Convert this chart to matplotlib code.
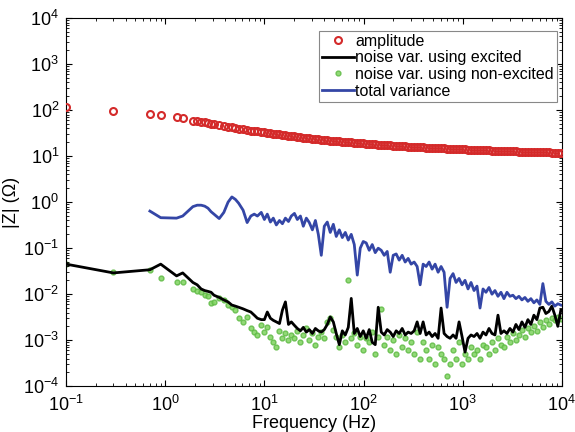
import numpy as np
import matplotlib
matplotlib.use('Agg')
import matplotlib.pyplot as plt

plt.rcParams['font.family'] = ['Liberation Sans', 'DejaVu Sans']
plt.rcParams['mathtext.default'] = 'regular'

# frequency grid (Hz)
freq = [0.1, 0.3, 0.7, 0.9, 1.3, 1.5, 1.9, 2.1, 2.3, 2.5, 2.7, 2.9, 3.1, 3.5, 3.9,
        4.3, 4.7, 5.1, 5.5, 6.1, 6.7, 7.3, 7.9, 8.5, 9.3,
        10, 10.7, 11.5, 12.3, 13.2, 14.2, 15.2, 16.3, 17.5, 18.7,
        20.1, 21.5, 23.1, 24.7, 26.5, 28.4, 30.5, 32.7, 35.0, 37.5,
        40.2, 43.1, 46.2, 49.6, 53.1, 57.0, 61.1, 65.5, 70.2, 75.2,
        80.7, 86.5, 92.7, 99.4, 106.5, 114.2, 122.5, 131.3, 140.7, 150.9,
        161.7, 173.4, 185.9, 199.3, 213.6, 229, 245.5, 263.2, 282.1, 302.4,
        324.2, 347.6, 372.6, 399.4, 428.2, 459, 492.1, 527.5, 565.5, 606.2,
        649.9, 696.7, 746.8, 800.6, 858.3, 920.1, 986.3, 1057, 1133, 1215,
        1303, 1396, 1497, 1605, 1720, 1844, 1977, 2119, 2272, 2435,
        2611, 2799, 3000, 3216, 3448, 3696, 3962, 4248, 4553, 4881,
        5233, 5609, 6013, 6446, 6910, 7408, 7941, 8513, 9126, 9783]

amplitude = [118, 96, 82, 78, 70, 69, 59, 57, 55.5, 54, 52.5, 51, 50, 48, 46,
             44, 42, 40.5, 39.5, 38, 37, 36, 35, 34.5, 33.5,
             33, 32.3, 31.6, 30.9, 30.3, 29.6, 29.0, 28.4, 27.9, 27.4,
             26.9, 26.4, 25.9, 25.4, 25.0, 24.5, 24.1, 23.7, 23.3, 22.9,
             22.6, 22.2, 21.9, 21.6, 21.3, 21.0, 20.7, 20.4, 20.1, 19.9,
             19.6, 19.4, 19.1, 18.9, 18.7, 18.5, 18.3, 18.1, 17.9, 17.7,
             17.5, 17.3, 17.2, 17.0, 16.8, 16.7, 16.5, 16.4, 16.2, 16.1,
             15.9, 15.8, 15.7, 15.5, 15.4, 15.3, 15.2, 15.0, 14.9, 14.8,
             14.7, 14.6, 14.5, 14.4, 14.3, 14.2, 14.1, 14.0, 13.9, 13.8,
             13.7, 13.6, 13.5, 13.4, 13.35, 13.3, 13.2, 13.1, 13.05, 13.0,
             12.9, 12.85, 12.8, 12.7, 12.65, 12.6, 12.5, 12.45, 12.4, 12.35,
             12.3, 12.25, 12.2, 12.15, 12.1, 12.05, 12.0, 11.95, 11.9, 11.85]

noise_exc = [0.045, 0.029, 0.034, 0.045, 0.025, 0.029, 0.018, 0.016, 0.013, 0.012, 0.0115, 0.011, 0.0095, 0.0085, 0.0075,
             0.0068, 0.0058, 0.0055, 0.0052, 0.0048, 0.0044, 0.0041, 0.0035, 0.003, 0.0028,
             0.0028, 0.0041, 0.003, 0.0027, 0.0025, 0.0023, 0.0045, 0.0068, 0.0022, 0.0025,
             0.0021, 0.0018, 0.0016, 0.0019, 0.0015, 0.0017, 0.0014, 0.0018, 0.0016, 0.0015,
             0.0017, 0.0022, 0.0032, 0.0025, 0.0014, 0.0008, 0.0016, 0.0013, 0.0019, 0.0081,
             0.0014, 0.0018, 0.0012, 0.0016, 0.0011, 0.0017, 0.0009, 0.0008, 0.0052, 0.0015,
             0.0013, 0.0017, 0.0015, 0.0012, 0.0016, 0.0014, 0.0018, 0.0013, 0.0015, 0.0014,
             0.0016, 0.0025, 0.0014, 0.0025, 0.0013, 0.0015, 0.0012, 0.0014, 0.0011, 0.005,
             0.0014, 0.0012, 0.0011, 0.0013, 0.0011, 0.0025, 0.0012, 0.00055, 0.0011, 0.0013,
             0.0012, 0.0014, 0.0011, 0.0015, 0.0013, 0.0018, 0.0014, 0.0013, 0.0035, 0.0014,
             0.0016, 0.0014, 0.0018, 0.0015, 0.0022, 0.0017, 0.0025, 0.0019, 0.0028, 0.0022,
             0.0035, 0.0028, 0.005, 0.0052, 0.0038, 0.0042, 0.0055, 0.0035, 0.002, 0.0045]

noise_nonexc = [0.045, 0.03, 0.033, 0.022, 0.018, 0.018, 0.013, 0.012, 0.011, 0.0095, 0.0092, 0.0065, 0.0068, 0.0082, 0.0075,
                0.0058, 0.0052, 0.0045, 0.003, 0.0025, 0.0032, 0.0018, 0.0015, 0.0013, 0.0021,
                0.0015, 0.0019, 0.0012, 0.0009, 0.0007, 0.0016, 0.0011, 0.0014, 0.001, 0.0013,
                0.0011, 0.0016, 0.0009, 0.0013, 0.0018, 0.001, 0.0014, 0.0008, 0.0012, 0.0015,
                0.0011, 0.0025, 0.003, 0.0017, 0.0012, 0.0007, 0.0013, 0.0009, 0.02, 0.0011,
                0.0014, 0.0008, 0.0012, 0.0006, 0.0011, 0.0009, 0.0015, 0.0005, 0.0012, 0.0048,
                0.0008, 0.0012, 0.0006, 0.0010, 0.0005, 0.0013, 0.0007, 0.0011, 0.0006, 0.0009,
                0.0005, 0.0015, 0.0004, 0.0009, 0.0006, 0.0004, 0.0008, 0.0003, 0.0007, 0.0005,
                0.0004, 0.00017, 0.0003, 0.0006, 0.0004, 0.0009, 0.0003, 0.0005, 0.0004, 0.0007,
                0.0005, 0.0006, 0.0004, 0.0008, 0.0007, 0.0005, 0.0009, 0.0006, 0.0011, 0.0008,
                0.0007, 0.0012, 0.0009, 0.0014, 0.001, 0.0013, 0.0017, 0.0012, 0.0018, 0.0015,
                0.002, 0.0016, 0.0025, 0.0019, 0.0028, 0.0022, 0.003, 0.0027, 0.0032, 0.0029]

# total variance starts at 0.7 Hz (freq[2:])
total_var = [0.64, 0.46, 0.45, 0.5, 0.8, 0.86, 0.86, 0.82, 0.74, 0.62, 0.55, 0.44, 0.6,
             1.0, 1.3, 1.15, 0.95, 0.67, 0.36, 0.5, 0.55, 0.5, 0.6,
             0.42, 0.55, 0.37, 0.45, 0.32, 0.4, 0.34, 0.45, 0.38, 0.5,
             0.57, 0.42, 0.5, 0.3, 0.45, 0.36, 0.25, 0.4, 0.2, 0.07,
             0.3, 0.37, 0.22, 0.33, 0.18, 0.25, 0.17, 0.22, 0.15, 0.2,
             0.12, 0.026, 0.1, 0.14, 0.13, 0.09, 0.12, 0.08, 0.1, 0.09,
             0.07, 0.085, 0.03, 0.07, 0.075, 0.055, 0.07, 0.05, 0.06, 0.045,
             0.05, 0.04, 0.016, 0.045, 0.04, 0.05, 0.035, 0.045, 0.03, 0.04,
             0.03, 0.0052, 0.022, 0.028, 0.018, 0.022, 0.016, 0.02, 0.013, 0.018,
             0.012, 0.015, 0.005, 0.013, 0.011, 0.014, 0.01, 0.012, 0.009, 0.011,
             0.008, 0.011, 0.009, 0.0095, 0.008, 0.009, 0.0075, 0.0085, 0.007, 0.008,
             0.0065, 0.0075, 0.006, 0.017, 0.007, 0.006, 0.0068, 0.0055, 0.0062, 0.0058]

fig = plt.figure(figsize=(5.75, 4.32), dpi=100)
ax = fig.add_axes([0.115, 0.106, 0.862, 0.852])

ax.plot(freq, amplitude, 'o', mfc='none', mec='#d42a2a', ms=5, mew=1.5, label='amplitude', zorder=3)
ax.plot(freq, noise_exc, '-', color='black', lw=2, label='noise var. using excited', zorder=2)
ax.plot(freq, noise_nonexc, 'o', color='#7fd35f', mec='#5fbb45', ms=3.5, alpha=0.85,
        label='noise var. using non-excited', zorder=1)
ax.plot(freq[2:], total_var, '-', color='#3446a6', lw=2, label='total variance', zorder=2)

ax.set_xscale('log')
ax.set_yscale('log')
ax.set_xlim(1e-1, 1e4)
ax.set_ylim(1e-4, 1e4)
ax.set_yticks([1e-4, 1e-3, 1e-2, 1e-1, 1e0, 1e1, 1e2, 1e3, 1e4])
ax.tick_params(which='both', direction='in', top=True, right=True, labelsize=13)
ax.tick_params(which='major', length=4)
ax.tick_params(which='minor', length=2)
ax.tick_params(axis='x', which='major', pad=6)
ax.tick_params(axis='y', which='major', pad=5)
ax.yaxis.set_minor_locator(matplotlib.ticker.LogLocator(base=10, subs=np.arange(2, 10), numticks=20))

ax.set_xlabel('Frequency (Hz)', fontsize=13, labelpad=0)
ax.set_ylabel('|Z| (Ω)', fontsize=13, labelpad=2)

leg = ax.legend(loc='upper right', bbox_to_anchor=(0.997, 0.975), fontsize=11.5, handlelength=2.0,
                handletextpad=0.1, borderpad=0.2, labelspacing=0.1, fancybox=False,
                edgecolor='#888888', framealpha=1, borderaxespad=0.2)
leg.get_frame().set_linewidth(0.8)

plt.savefig('out.png', dpi=100)
